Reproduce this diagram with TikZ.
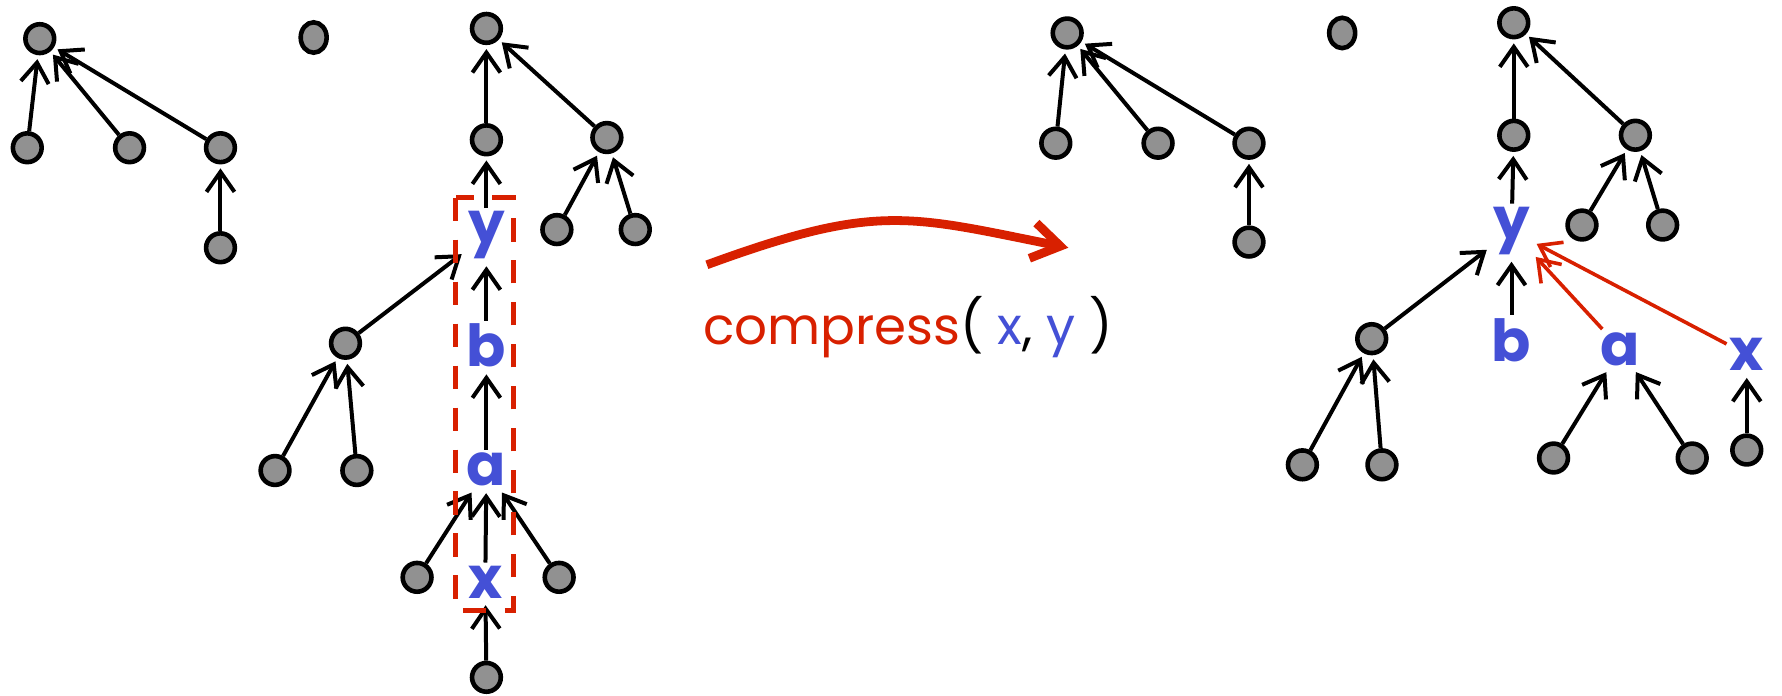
\documentclass[tikz,border=0pt]{standalone}
\usepackage{fontspec}
\setmainfont{Poppins}
\usetikzlibrary{arrows.meta,shapes.geometric}
\definecolor{nodegray}{RGB}{145,145,145}
\definecolor{lblue}{RGB}{68,80,214}
\definecolor{dred}{RGB}{216,32,0}
\begin{document}
\begin{tikzpicture}[x=0.01cm,y=-0.01cm,
  vert/.style={circle,draw=black,fill=nodegray,line width=1.15pt,minimum size=7.2pt,inner sep=0pt},
  lone/.style={ellipse,draw=black,fill=nodegray,line width=1.15pt,minimum width=6.5pt,minimum height=7.6pt,inner sep=0pt},
  lbl/.style={text=lblue,font=\bfseries\fontsize{14.5}{14.5}\selectfont,inner sep=0.6pt},
  edge/.style={line width=1pt,-{Straight Barb[length=5pt,width=7pt]},shorten >=1pt},
  redge/.style={line width=0.9pt,draw=dred,-{Straight Barb[length=5pt,width=7pt]},shorten >=1pt},
  bigarrow/.style={line width=2.2pt,draw=dred,-{Straight Barb[length=7pt,width=9pt]}},
  dashbox/.style={draw=dred,line width=1.3pt,dash pattern=on 5.8pt off 4.7pt}
]
\useasboundingbox (0,0) rectangle (1568,612);

% ---------- left picture ----------
\node[vert] (L0) at (35,34) {};
\node[vert] (L1) at (24,130) {};
\node[vert] (L2) at (114,130) {};
\node[vert] (L3) at (194,130) {};
\node[vert] (L4) at (194,218) {};
\node[lone] (I1) at (276,33) {};

\node[vert] (M0) at (428,25) {};
\node[vert] (M1) at (428,123) {};
\node[vert] (M2) at (534,121) {};
\node[vert] (M3) at (490,202) {};
\node[vert] (M4) at (559,202) {};
\node[lbl] (y1) at (428,207) {y};
\node[lbl] (b1) at (428,304) {b};
\node[lbl] (a1) at (428,413) {a};
\node[lbl] (x1) at (427,512) {x};
\node[vert] (M5) at (428,596) {};
\node[vert] (S) at (304,302) {};
\node[vert] (S1) at (242,414) {};
\node[vert] (S2) at (314,414) {};
\node[vert] (A1) at (367,508) {};
\node[vert] (A2) at (492,508) {};

\draw[edge] (L1) -- (L0);
\draw[edge] (L2) -- (L0);
\draw[edge] (L3) -- (L0);
\draw[edge] (L4) -- (L3);
\draw[edge] (M1) -- (M0);
\draw[edge] (M2) -- (M0);
\draw[edge] (M3) -- (M2);
\draw[edge] (M4) -- (M2);
\draw[edge] (y1) -- (M1);
\draw[edge] (b1) -- (y1);
\draw[edge] (a1) -- (b1);
\draw[edge] (x1) -- (a1);
\draw[edge] (M5) -- (x1);
\draw[edge] (S) -- (y1);
\draw[edge] (S1) -- (S);
\draw[edge] (S2) -- (S);
\draw[edge] (A1) -- (a1);
\draw[edge] (A2) -- (a1);

\draw[dashbox] (401,174) rectangle (452,537);

% ---------- transformation ----------
\coordinate (c0) at (622,233);
\coordinate (c1) at (940,218);
\draw[bigarrow] (c0) .. controls (772,178) and (800,190) .. (c1);
\node[font=\fontsize{12.9}{14}\selectfont,inner sep=0pt] (lab) at (799,288)
  {\textcolor{dred}{compress}( \textcolor{lblue}{x}, \textcolor{lblue}{y} )};

% ---------- right picture ----------
\node[vert] (R0) at (939,29) {};
\node[vert] (R1) at (929,126) {};
\node[vert] (R2) at (1019,126) {};
\node[vert] (R3) at (1099,126) {};
\node[vert] (R4) at (1099,213) {};
\node[lone] (I2) at (1181,29) {};

\node[vert] (N0) at (1332,20) {};
\node[vert] (N1) at (1332,119) {};
\node[vert] (N2) at (1439,119) {};
\node[vert] (N3) at (1392,198) {};
\node[vert] (N4) at (1463,198) {};
\node[lbl] (y2) at (1330,203) {y};
\node[lbl] (b2) at (1330,299) {b};
\node[lbl] (a2) at (1426,307) {a};
\node[lbl] (x2) at (1537,312) {x};
\node[vert] (T) at (1207,298) {};
\node[vert] (T1) at (1146,409) {};
\node[vert] (T2) at (1216,409) {};
\node[vert] (B1) at (1367,403) {};
\node[vert] (B2) at (1489,403) {};
\node[vert] (C1) at (1537,396) {};

\draw[edge] (R1) -- (R0);
\draw[edge] (R2) -- (R0);
\draw[edge] (R3) -- (R0);
\draw[edge] (R4) -- (R3);
\draw[edge] (N1) -- (N0);
\draw[edge] (N2) -- (N0);
\draw[edge] (N3) -- (N2);
\draw[edge] (N4) -- (N2);
\draw[edge] (y2) -- (N1);
\draw[edge] (b2) -- (y2);
\draw[edge] (T) -- (y2);
\draw[edge] (T1) -- (T);
\draw[edge] (T2) -- (T);
\draw[edge] (B1) -- (a2);
\draw[edge] (B2) -- (a2);
\draw[edge] (C1) -- (x2);
\draw[redge] (a2) -- (y2);
\draw[redge] (x2) -- (y2);
\end{tikzpicture}
\end{document}
